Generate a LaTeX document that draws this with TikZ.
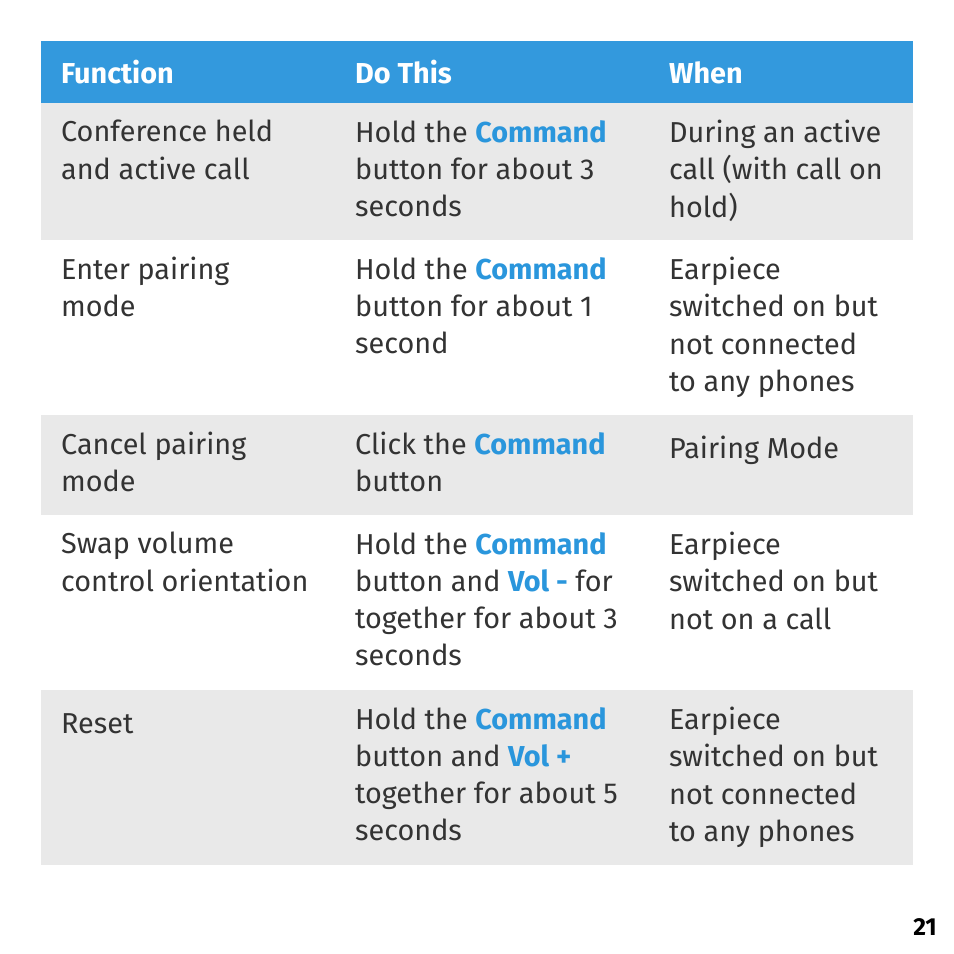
\documentclass[tikz,border=0pt]{standalone}
\usepackage{fontspec}
\setmainfont{Fira Sans}
\definecolor{headblue}{HTML}{3399DD}
\definecolor{cmdblue}{HTML}{2A96DC}
\definecolor{rowgray}{HTML}{E9E9E9}
\definecolor{txtgray}{HTML}{333333}
\newcommand{\cmd}[1]{\textcolor{cmdblue}{\bfseries #1}}
\tikzset{
  cell/.style={anchor=north west, inner sep=0pt, align=left, text=txtgray,
    font=\fontsize{41pt}{53pt}\selectfont, execute at begin node=\strut},
  headcell/.style={cell, text=white, font=\fontsize{41pt}{53pt}\selectfont\bfseries},
  band/.style={fill=rowgray, draw=none}
}
\begin{document}
\begin{tikzpicture}[x=0.05cm,y=-0.05cm]
\useasboundingbox (0,0) rectangle (954,954);
% background bands
\fill[headblue] (41,41) rectangle (913,103);
\fill[band] (41,103) rectangle (913,240);
\fill[band] (41,415) rectangle (913,515);
\fill[band] (41,690) rectangle (913,865);

% header
\node[headcell] (hfunc) at (61,57) {Function};
\node[headcell] (hdo) at (355,57) {Do This};
\node[headcell] (hwhen) at (669,57) {When};

% row 1
\node[cell] (func1) at (61,120) {Conference held\\and active call};
\node[cell] (do1) at (355,120) {Hold the \cmd{Command}\\button for about 3\\seconds};
\node[cell] (when1) at (669,120) {During an active\\call (with call on\\hold)};

% row 2
\node[cell] (func2) at (61,257) {Enter pairing\\mode};
\node[cell] (do2) at (355,257) {Hold the \cmd{Command}\\button for about 1\\second};
\node[cell] (when2) at (669,257) {Earpiece\\switched on but\\not connected\\to any phones};

% row 3
\node[cell] (func3) at (61,432) {Cancel pairing\\mode};
\node[cell] (do3) at (355,432) {Click the \cmd{Command}\\button};
\node[cell] (when3) at (669,432) {Pairing Mode};

% row 4
\node[cell] (func4) at (61,532) {Swap volume\\control orientation};
\node[cell] (do4) at (355,532) {Hold the \cmd{Command}\\button and \cmd{Vol -} for\\together for about 3\\seconds};
\node[cell] (when4) at (669,532) {Earpiece\\switched on but\\not on a call};

% row 5
\node[cell] (func5) at (61,707) {Reset};
\node[cell] (do5) at (355,707) {Hold the \cmd{Command}\\button and \cmd{Vol +}\\together for about 5\\seconds};
\node[cell] (when5) at (669,707) {Earpiece\\switched on but\\not connected\\to any phones};

% page number
\node[anchor=base east, inner sep=0pt, font=\fontsize{35pt}{40pt}\selectfont\bfseries] (page) at (937,935) {21};
\end{tikzpicture}
\end{document}
